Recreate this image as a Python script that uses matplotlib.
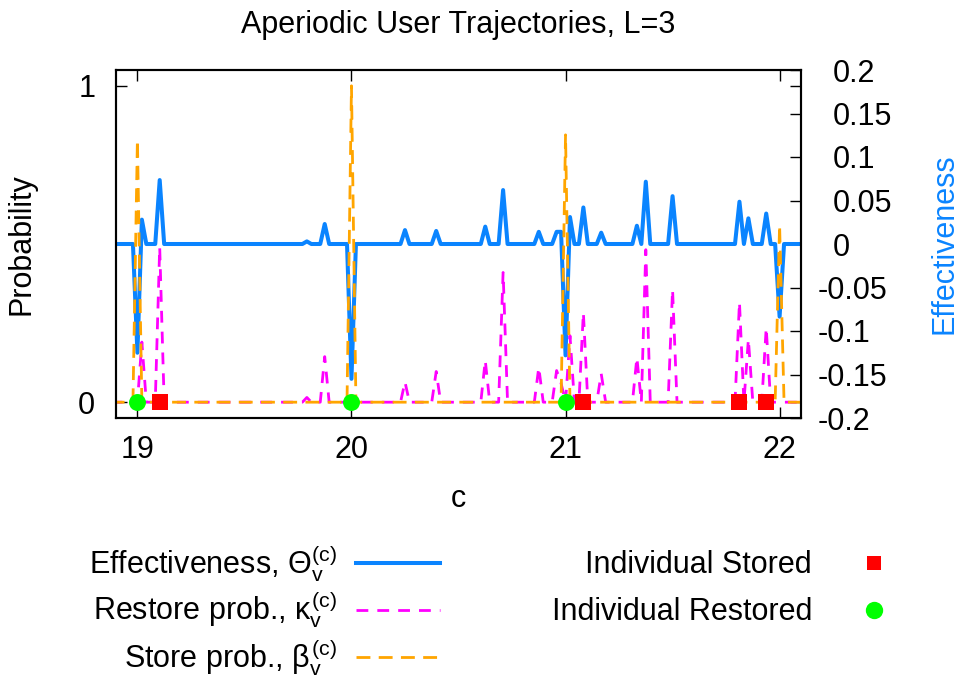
import numpy as np
import matplotlib
matplotlib.use("Agg")
import matplotlib.pyplot as plt
from matplotlib.lines import Line2D
from matplotlib.transforms import ScaledTranslation

plt.rcParams['font.family'] = ['Liberation Sans', 'DejaVu Sans']
plt.rcParams['mathtext.fontset'] = 'custom'
plt.rcParams['mathtext.rm'] = 'Liberation Sans'
plt.rcParams['mathtext.it'] = 'Liberation Sans'
plt.rcParams['mathtext.bf'] = 'Liberation Sans:bold'
plt.rcParams['axes.unicode_minus'] = False
plt.rcParams['lines.scale_dashes'] = False

# one slot = 1/48 of a cycle, slot 0 is c = 19
slots_per_c = 48
c_start = 19
slot_range = (-6, 150)

# effectiveness Theta (right axis), nonzero slots only
eff_slots = [0, 1, 5, 38, 42, 48, 60, 67, 78, 82, 90, 94, 95, 96, 97, 100,
             104, 112, 114, 120, 135, 137, 141, 144]
eff_vals = [-0.125, 0.028, 0.0735, 0.003, 0.023, -0.155, 0.016, 0.015, 0.02,
            0.062, 0.014, 0.014, 0.014, -0.128, 0.031, 0.042, 0.013, 0.021,
            0.0716, 0.055, 0.0486, 0.0295, 0.035, -0.0835]

# restore prob kappa (left axis)
restore_slots = [1, 5, 38, 42, 60, 67, 78, 82, 90, 94, 95, 97, 100, 104, 112,
                 114, 120, 135, 137, 141]
restore_vals = [0.19, 0.49, 0.015, 0.144, 0.064, 0.097, 0.132, 0.41, 0.11,
                0.10, 0.06, 0.21, 0.283, 0.09, 0.141, 0.482, 0.356, 0.316,
                0.199, 0.235]

# store prob beta (left axis)
store_slots = [0, 48, 96, 144]
store_vals = [0.83, 1.0, 0.845, 0.56]

# individual events
stored_slots = [5, 100, 135, 141]
restored_slots = [0, 48, 96]


def dense(slots, vals):
    s = np.arange(slot_range[0], slot_range[1] + 1)
    y = np.zeros(len(s))
    for k, v in zip(slots, vals):
        y[k - slot_range[0]] = v
    return c_start + s / slots_per_c, y


W, H = 963, 682
fig = plt.figure(figsize=(W / 100, H / 100), dpi=100)
ax = fig.add_axes([116 / W, 1 - 418 / H, (801 - 116) / W, (418 - 70) / H])
ax2 = ax.twinx()
ax.set_zorder(ax2.get_zorder() + 1)
ax.patch.set_visible(False)

blue = '#0a84ff'
magenta = '#ff00ff'
orange = '#ffa500'

c, eff = dense(eff_slots, eff_vals)
ax2.plot(c, eff, color=blue, lw=2.9)

c, rest = dense(restore_slots, restore_vals)
ax.plot(c, rest, color=magenta, lw=2.0, dashes=(8.5, 6.5))
c, sto = dense(store_slots, store_vals)
ax.plot(c, sto, color=orange, lw=2.0, dashes=(10, 6))

stored_c = [c_start + s / slots_per_c for s in stored_slots]
restored_c = [c_start + s / slots_per_c for s in restored_slots]
ax.plot(stored_c, [0] * len(stored_c), 's', color='red', ms=11.5, mew=0)
ax.plot(restored_c, [0] * len(restored_c), 'o', color='#00ff00', ms=12.2,
        mew=0)

ax.set_xlim(18.9, 22.1)
ax.set_ylim(-0.05, 1.05)
ax2.set_ylim(-0.2, 0.2)

ax.set_xticks([19, 20, 21, 22])
ax.set_yticks([0, 1])
ax2.set_yticks(np.round(np.arange(-0.2, 0.201, 0.05), 2))
ax2.set_yticklabels(['-0.2', '-0.15', '-0.1', '-0.05', '0', '0.05', '0.1',
                     '0.15', '0.2'])

fs = 22
ax.tick_params(axis='x', direction='in', length=8, width=1, top=True,
               labelsize=fs, pad=12)
ax.tick_params(axis='y', direction='in', length=8, width=1, right=True,
               labelsize=fs, pad=15)
ax2.tick_params(axis='y', direction='in', length=8, width=1,
                labelsize=fs, pad=23)
for a in (ax, ax2):
    for sp in a.spines.values():
        sp.set_linewidth(1.5)

for lab in ax2.get_yticklabels():
    if lab.get_text().startswith('-'):
        lab.set_transform(lab.get_transform() +
                          ScaledTranslation(-15 / 100, 0, fig.dpi_scale_trans))

ax.set_xlabel('c', fontsize=fs, labelpad=14)
ax.set_ylabel('Probability', fontsize=fs, labelpad=30)
ax2.set_ylabel('Effectiveness', fontsize=fs, color=blue, labelpad=27)

fig.text(458 / W, 1 - 25 / H, 'Aperiodic User Trajectories, L=3',
         fontsize=fs, ha='center', va='center')

# key, drawn gnuplot style: text on the left, sample on the right
def fx(px):
    return px / W


def fy(py):
    return 1 - py / H


left_entries = [
    (r'Effectiveness, $\Theta_{\rm v}^{\rm (c)}$', blue, None, 573, 563),
    (r'Restore prob., $\kappa_{\rm v}^{\rm (c)}$', magenta, (8.5, 6.5), 620, 610),
    (r'Store prob., $\beta_{\rm v}^{\rm (c)}$', orange, (10, 6), 667, 657),
]
for text, col, dash, base, ly in left_entries:
    fig.text(fx(337), fy(base), text, fontsize=fs, ha='right', va='baseline')
    ln = Line2D([fx(356), fx(440)], [fy(ly), fy(ly)], color=col,
                lw=2.9 if dash is None else 2.0, transform=fig.transFigure)
    if dash is not None:
        ln.set_dashes(dash)
    fig.add_artist(ln)

fig.text(fx(812), fy(573), 'Individual Stored', fontsize=fs, ha='right',
         va='baseline')
fig.add_artist(Line2D([fx(874)], [fy(563)], marker='s', color='red', ms=10,
                      mew=0, transform=fig.transFigure))
fig.text(fx(812), fy(620), 'Individual Restored', fontsize=fs, ha='right',
         va='baseline')
fig.add_artist(Line2D([fx(874)], [fy(610)], marker='o', color='#00ff00',
                      ms=12.5, mew=0, transform=fig.transFigure))

fig.savefig('out.png', dpi=100)
